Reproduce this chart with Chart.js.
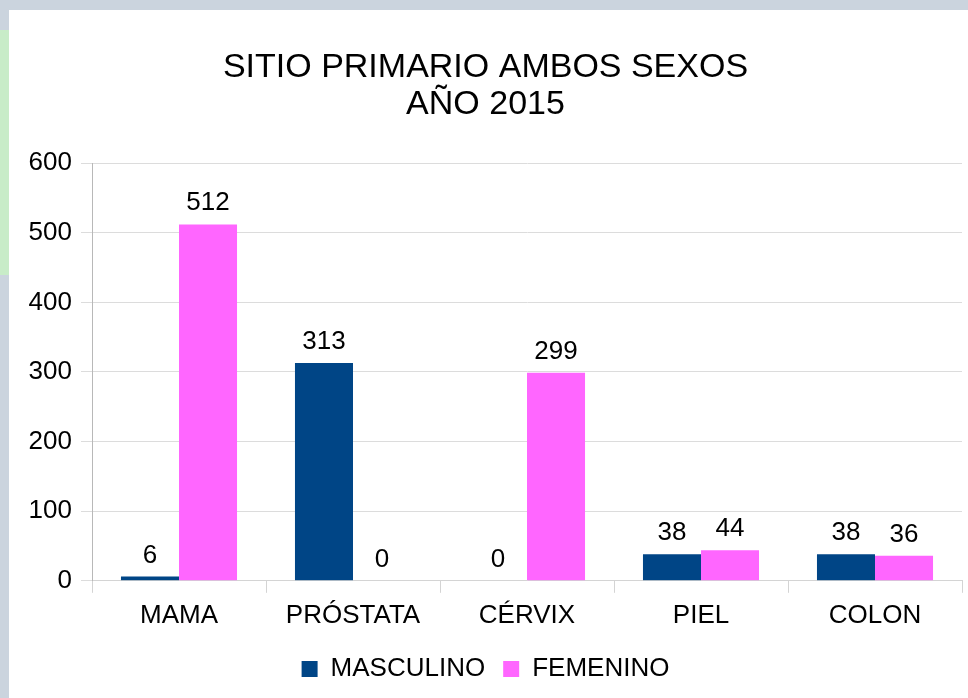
<!DOCTYPE html>
<html>
<head>
<meta charset="utf-8">
<script src="https://cdn.jsdelivr.net/npm/chart.js@4/dist/chart.umd.min.js"></script>
<style>
  html, body { margin: 0; padding: 0; }
  body { width: 968px; height: 698px; background: #cbd4de; position: relative; overflow: hidden; }
  #green { position: absolute; left: 0; top: 30px; width: 9px; height: 245px; background: #c8ecc8; }
  #panel { position: absolute; left: 9px; top: 10px; width: 959px; height: 688px; background: #fff; }
</style>
</head>
<body>
<div id="green"></div>
<div id="panel"><canvas id="grafico" width="959" height="688"></canvas></div>
<script>
// datos
var sitios = ['MAMA', 'PRÓSTATA', 'CÉRVIX', 'PIEL', 'COLON'];
var masculino = [6, 313, 0, 38, 38];
var femenino = [512, 0, 299, 44, 36];
var ticksY = [0, 100, 200, 300, 400, 500, 600];

var fuente = 'Liberation Sans, Arial, sans-serif';

// etiquetas encima de cada barra
var etiquetas = {
    id: 'etiquetas',
    afterDatasetsDraw: function(chart) {
        var ctx = chart.ctx;
        ctx.save();
        ctx.font = '26px ' + fuente;
        ctx.fillStyle = '#000';
        ctx.textAlign = 'center';
        ctx.textBaseline = 'alphabetic';
        chart.data.datasets.forEach(function(ds, i) {
            chart.getDatasetMeta(i).data.forEach(function(bar, j) {
                ctx.fillText(ds.data[j], bar.x, bar.y - 14);
            });
        });
        ctx.restore();
    }
};

var ctx = document.getElementById('grafico').getContext('2d');
var grafico = new Chart(ctx, {
    type: 'bar',
    data: {
        labels: sitios,
        datasets: [{
            label: 'MASCULINO',
            data: masculino,
            backgroundColor: '#004586'
        }, {
            label: 'FEMENINO',
            data: femenino,
            backgroundColor: '#ff66ff'
        }]
    },
    options: {
        responsive: false,
        animation: false,
        layout: { padding: { left: 0, right: 6, top: 0, bottom: 6 } },
        datasets: { bar: { categoryPercentage: 0.667, barPercentage: 1.0 } },
        plugins: {
            title: {
                display: true,
                text: ['SITIO PRIMARIO AMBOS SEXOS', 'AÑO 2015'],
                color: '#000',
                font: { family: fuente, size: 34, weight: 'normal', lineHeight: 1.09 },
                padding: { top: 39, bottom: 40 }
            },
            legend: {
                position: 'bottom',
                labels: {
                    color: '#000',
                    font: { family: fuente, size: 26 },
                    boxWidth: 16,
                    boxHeight: 16,
                    padding: 18
                }
            },
            tooltip: { enabled: false }
        },
        scales: {
            x: {
                grid: {
                    offset: true,
                    drawOnChartArea: true,
                    color: function(c) { return c.index === sitios.length ? '#cfcfcf' : 'rgba(0,0,0,0)'; },
                    tickColor: '#d4d4d4',
                    tickLength: 12
                },
                border: { color: '#d4d4d4' },
                ticks: { color: '#000', font: { family: fuente, size: 26 }, padding: 7 }
            },
            y: {
                min: 0,
                max: 600,
                afterBuildTicks: function(s) { s.ticks = ticksY.map(function(v) { return { value: v }; }); },
                grid: { color: '#dcdcdc', tickLength: 11 },
                border: { color: '#b8b8b8' },
                ticks: { color: '#000', font: { family: fuente, size: 26 }, padding: 9 },
                afterFit: function(s) { s.width = 83; }
            }
        }
    },
    plugins: [etiquetas]
});
</script>
</body>
</html>
